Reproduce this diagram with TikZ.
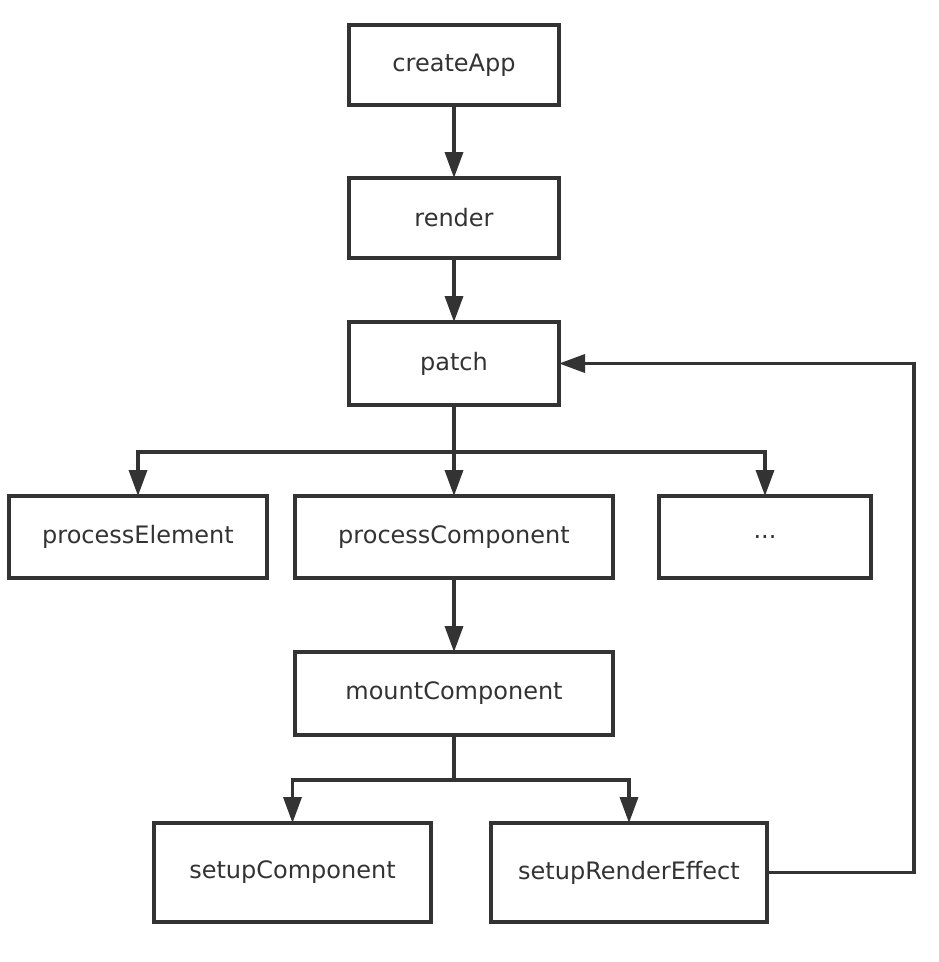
\documentclass[tikz,border=0pt]{standalone}
\usepackage{fontspec}
\setmainfont{DejaVu Sans}
\usepackage{tikz}
\usetikzlibrary{arrows.meta,positioning}
\definecolor{FlowGray}{RGB}{51,51,51}
\tikzset{
  callbox/.style={draw=FlowGray, line width=3.5pt, text=FlowGray,
    font=\fontsize{24}{28}\selectfont, align=center, fill=white,
    minimum width=210pt, minimum height=82pt, inner sep=0pt, outer sep=0pt},
  flowline/.style={draw=FlowGray, line width=3.5pt},
  flowarrow/.style={flowline, -{Triangle[length=26pt,width=18pt]}}
}
\begin{document}
\begin{tikzpicture}[x=1pt,y=-1pt]
  \useasboundingbox (0,0) rectangle (938,962);
  % main chain
  \node[callbox, minimum height=80pt] (createapp) at (454,65) {createApp};
  \node[callbox, minimum height=80pt, below=73pt of createapp] (render) {render};
  \node[callbox, minimum height=83pt, below=64pt of render] (patch) {patch};
  % patch targets
  \node[callbox, minimum width=318pt, below=91pt of patch] (proccomp) {processComponent};
  \node[callbox, minimum width=258pt, left=28pt of proccomp] (procelem) {processElement};
  \node[callbox, minimum width=212pt, right=46pt of proccomp] (others) {...};
  \node[callbox, minimum width=318pt, minimum height=83pt, below=74pt of proccomp] (mount) {mountComponent};
  % setup
  \node[callbox, minimum width=277pt, minimum height=99pt, below=88pt of mount.south west,
    xshift=-2.5pt] (setupcomp) {setupComponent};
  \node[callbox, minimum width=276pt, minimum height=99pt, below=88pt of mount.south east,
    xshift=16pt] (setupeffect) {setupRenderEffect};

  \draw[flowarrow] (createapp) -- (render);
  \draw[flowarrow] (render) -- (patch);
  \draw[flowarrow] (patch) -- (proccomp);
  \path (patch.south) ++(0,47) coordinate (patchfork);
  \draw[flowarrow] (patchfork) -| (procelem);
  \draw[flowarrow] (patchfork) -| (others);
  \draw[flowarrow] (proccomp) -- (mount);
  \draw[flowline] (mount.south) -- ++(0,45) coordinate (mountfork);
  \draw[flowarrow] (mountfork) -| (setupcomp);
  \draw[flowarrow] (mountfork) -| (setupeffect);
  % back to patch
  \draw[flowarrow] (setupeffect.east) -- ++(147,0) |- (patch.east);
\end{tikzpicture}
\end{document}
